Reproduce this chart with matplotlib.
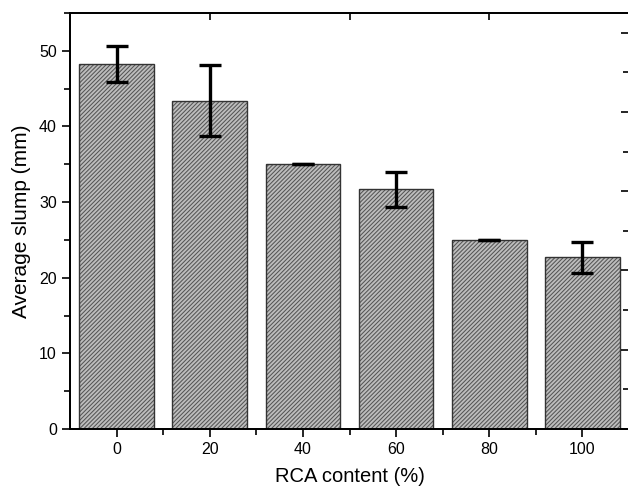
import matplotlib.pyplot as plt
from matplotlib.ticker import MultipleLocator, FixedLocator

plt.rcParams['font.family'] = ['Liberation Sans', 'DejaVu Sans']
plt.rcParams['hatch.linewidth'] = 0.75

# === Données ===
rca_content = [0, 20, 40, 60, 80, 100]
avg_slump = [48.3, 43.4, 35.0, 31.7, 25.0, 22.7]
slump_err = [2.4, 4.7, 0.0, 2.3, 0.0, 2.05]

pos = [70 / 628, 61 / 490, 559 / 628, 416 / 490]
fig = plt.figure(figsize=(6.28, 4.90), dpi=100)
ax = fig.add_axes(pos)

# remplissage hachuré puis contour
ax.bar(rca_content, avg_slump, width=16, color='#bdbdbd', edgecolor='#555555',
       linewidth=0, hatch='////////')
ax.bar(rca_content, avg_slump, width=16, fill=False, edgecolor='#333333', linewidth=1.0)
ax.errorbar(rca_content, avg_slump, yerr=slump_err, fmt='none', ecolor='black',
            elinewidth=2.4, capsize=8, capthick=2.4)

ax.set_xlim(-10, 110)
ax.set_ylim(0, 55)
ax.set_xticks(rca_content)
ax.xaxis.set_minor_locator(FixedLocator([10, 30, 50, 70, 90]))
ax.yaxis.set_major_locator(MultipleLocator(10))
ax.yaxis.set_minor_locator(MultipleLocator(5))
ax.tick_params(axis='both', which='major', direction='out', length=6, width=1.2,
               labelsize=11.5, pad=3.5)
ax.tick_params(axis='both', which='minor', direction='out', length=4, width=1.2)
ax.set_xlabel('RCA content (%)', fontsize=14.5, labelpad=7)
ax.set_ylabel('Average slump (mm)', fontsize=15, labelpad=6)

for s in ax.spines.values():
    s.set_linewidth(1.3)

# === Axes haut / droite (repères vers l'intérieur, sans étiquettes) ===
ax2 = fig.add_axes(pos)
ax2.patch.set_visible(False)
ax2.set_xlim(-10, 110)
ax2.set_ylim(0, 55 / 5.24)
ax2.xaxis.tick_top()
ax2.yaxis.tick_right()
ax2.xaxis.set_major_locator(FixedLocator([20, 50, 80]))
ax2.yaxis.set_major_locator(MultipleLocator(2))
ax2.yaxis.set_minor_locator(MultipleLocator(1))
ax2.set_xticklabels([])
ax2.set_yticklabels([])
ax2.tick_params(axis='x', which='major', direction='in', length=5, width=1.2)
ax2.tick_params(axis='y', which='major', direction='in', length=6, width=1.2)
ax2.tick_params(axis='y', which='minor', direction='in', length=4, width=1.2)
for s in ax2.spines.values():
    s.set_linewidth(1.3)

fig.savefig('out.png', dpi=100)
